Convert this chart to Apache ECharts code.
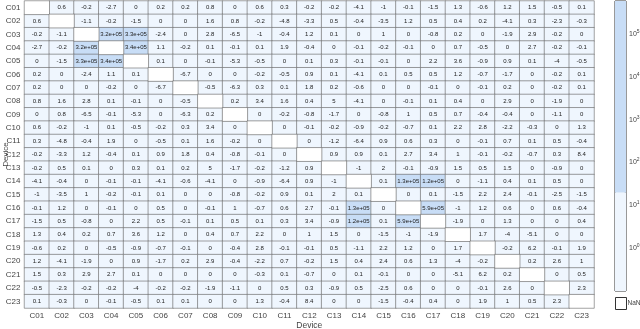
<!DOCTYPE html>
<html>
<head>
<meta charset="utf-8">
<script src="https://cdn.jsdelivr.net/npm/echarts@6/dist/echarts.min.js"></script>
<style>html,body{margin:0;padding:0;background:#fff;}#c{width:640px;height:329px;}</style>
</head>
<body>
<div id="c"></div>
<script>
const categories = ['C01','C02','C03','C04','C05','C06','C07','C08','C09','C10','C11','C12','C13','C14','C15','C16','C17','C18','C19','C20','C21','C22','C23'];
const N = NaN;
const values = [
  [N, 0.6, -0.2, -2.7, 0, 0.2, 0.2, 0.8, 0, 0.6, 0.3, -0.2, -0.2, -4.1, -1, -0.1, -1.5, 1.3, -0.6, 1.2, 1.5, -0.5, 0.1],
  [0.6, N, -1.1, -0.2, -1.5, 0, 0, 1.6, 0.8, -0.2, -4.8, -3.3, 0.5, -0.4, -3.5, 1.2, 0.5, 0.4, 0.2, -4.1, 0.3, -2.3, -0.3],
  [-0.2, -1.1, N, 3.2e5, 3.3e5, -2.4, 0, 2.8, -6.5, -1, -0.4, 1.2, 0.1, 0, 1, 0, -0.8, 0.2, 0, -1.9, 2.9, -0.2, 0],
  [-2.7, -0.2, 3.2e5, N, 3.4e5, 1.1, -0.2, 0.1, -0.1, 0.1, 1.9, -0.4, 0, -0.1, -0.2, -0.1, 0, 0.7, -0.5, 0, 2.7, -0.2, -0.1],
  [0, -1.5, 3.3e5, 3.4e5, N, 0.1, 0, -0.1, -5.3, -0.5, 0, 0.1, 0.3, -0.1, -0.1, 0, 2.2, 3.6, -0.9, 0.9, 0.1, -4, -0.5],
  [0.2, 0, -2.4, 1.1, 0.1, N, -6.7, 0, 0, -0.2, -0.5, 0.9, 0.1, -4.1, 0.1, 0.5, 0.5, 1.2, -0.7, -1.7, 0, -0.2, 0.1],
  [0.2, 0, 0, -0.2, 0, -6.7, N, -0.5, -6.3, 0.3, 0.1, 1.8, 0.2, -0.6, 0, 0, -0.1, 0, -0.1, 0.2, 0, -0.2, 0.1],
  [0.8, 1.6, 2.8, 0.1, -0.1, 0, -0.5, N, 0.2, 3.4, 1.6, 0.4, 5, -4.1, 0, -0.1, 0.1, 0.4, 0, 2.9, 0, -1.9, 0],
  [0, 0.8, -6.5, -0.1, -5.3, 0, -6.3, 0.2, N, 0, -0.2, -0.8, -1.7, 0, -0.8, 1, 0.5, 0.7, -0.4, -0.4, 0, -1.1, 0],
  [0.6, -0.2, -1, 0.1, -0.5, -0.2, 0.3, 3.4, 0, N, 0, -0.1, -0.2, -0.9, -0.2, -0.7, 0.1, 2.2, 2.8, -2.2, -0.3, 0, 1.3],
  [0.3, -4.8, -0.4, 1.9, 0, -0.5, 0.1, 1.6, -0.2, 0, N, 0, -1.2, -6.4, 0.9, 0.6, 0.3, 0, -0.1, 0.7, 0.1, 0.5, -0.4],
  [-0.2, -3.3, 1.2, -0.4, 0.1, 0.9, 1.8, 0.4, -0.8, -0.1, 0, N, 0.9, 0.9, 0.1, 2.7, 3.4, 1, -0.1, -0.2, -0.7, 0.3, 8.4],
  [-0.2, 0.5, 0.1, 0, 0.3, 0.1, 0.2, 5, -1.7, -0.2, -1.2, 0.9, N, -1, 2, -0.1, -0.9, 1.5, 0.5, 1.5, 0, -0.9, 0],
  [-4.1, -0.4, 0, -0.1, -0.1, -4.1, -0.6, -4.1, 0, -0.9, -6.4, 0.9, -1, N, 0.1, 1.3e5, 1.2e5, 0, -1.1, 0.4, 0.1, 0.5, 0],
  [-1, -3.5, 1, -0.2, -0.1, 0.1, 0, 0, -0.8, -0.2, 0.9, 0.1, 2, 0.1, N, 0, 0.1, -1.5, 2.2, 2.4, -0.1, -2.5, -1.5],
  [-0.1, 1.2, 0, -0.1, 0, 0.5, 0, -0.1, 1, -0.7, 0.6, 2.7, -0.1, 1.3e5, 0, N, 5.9e5, -1, 1.2, 0.6, 0, 0.6, -0.4],
  [-1.5, 0.5, -0.8, 0, 2.2, 0.5, -0.1, 0.1, 0.5, 0.1, 0.3, 3.4, -0.9, 1.2e5, 0.1, 5.9e5, N, -1.9, 0, 1.3, 0, 0, 0.4],
  [1.3, 0.4, 0.2, 0.7, 3.6, 1.2, 0, 0.4, 0.7, 2.2, 0, 1, 1.5, 0, -1.5, -1, -1.9, N, 1.7, -4, -5.1, 0, 0],
  [-0.6, 0.2, 0, -0.5, -0.9, -0.7, -0.1, 0, -0.4, 2.8, -0.1, -0.1, 0.5, -1.1, 2.2, 1.2, 0, 1.7, N, -0.2, 6.2, -0.1, 1.9],
  [1.2, -4.1, -1.9, 0, 0.9, -1.7, 0.2, 2.9, -0.4, -2.2, 0.7, -0.2, 1.5, 0.4, 2.4, 0.6, 1.3, -4, -0.2, N, 0.2, 2.6, 1],
  [1.5, 0.3, 2.9, 2.7, 0.1, 0, 0, 0, 0, -0.3, 0.1, -0.7, 0, 0.1, -0.1, 0, 0, -5.1, 6.2, 0.2, N, 0, 0.5],
  [-0.5, -2.3, -0.2, -0.2, -4, -0.2, -0.2, -1.9, -1.1, 0, 0.5, 0.3, -0.9, 0.5, -2.5, 0.6, 0, 0, -0.1, 2.6, 0, N, 2.3],
  [0.1, -0.3, 0, -0.1, -0.5, 0.1, 0.1, 0, 0, 1.3, -0.4, 8.4, 0, 0, -1.5, -0.4, 0.4, 0, 1.9, 1, 0.5, 2.3, N]
];
const colorbarRange = [0.1, 5.9e5];
const colorbarTicks = [1, 10, 100, 1000, 10000, 100000];
const colorThreshold = 20;

const HIGH = '#c8ddf6';
const LOW = '#eff6fe';
const FONT = '"Liberation Sans", Arial, sans-serif';

const cellData = [];
const nanData = [];
values.forEach(function (row, r) {
  row.forEach(function (v, c) {
    if (isNaN(v)) nanData.push([c, r, 0]);
    else cellData.push([c, r, v]);
  });
});

function fmt(v) {
  if (Math.abs(v) >= 1e4) {
    return v.toExponential(1).replace(/e([+-])(\d)$/, 'e$10$2');
  }
  return String(v);
}

const chart = echarts.init(document.getElementById('c'), null, {renderer: 'canvas'});
chart.setOption({
  animation: false,
  textStyle: {fontFamily: FONT},
  grid: [
    {left: 24.5, top: 1, width: 569.5, height: 307, show: false, outerBoundsMode: 'none', containLabel: false},
    {left: 615, top: 1, width: 11, height: 290, show: true, borderColor: '#333', borderWidth: 1, backgroundColor: 'transparent', outerBoundsMode: 'none', containLabel: false}
  ],
  xAxis: [
    {
      type: 'category', gridIndex: 0, data: categories,
      name: 'Device', nameLocation: 'middle', nameGap: 13, nameMoveOverlap: false,
      nameTextStyle: {fontSize: 8.5, color: '#444', fontFamily: FONT},
      axisLine: {show: false}, axisTick: {show: false},
      axisLabel: {fontSize: 8, color: '#444', margin: 4, interval: 0, fontFamily: FONT},
      splitLine: {show: false}
    },
    {type: 'category', gridIndex: 1, data: [''], show: false}
  ],
  yAxis: [
    {
      type: 'category', gridIndex: 0, data: categories, inverse: true,
      name: 'Device', nameLocation: 'middle', nameGap: 15, nameRotate: 90, nameMoveOverlap: false,
      nameTextStyle: {fontSize: 8, color: '#444', fontFamily: FONT},
      axisLine: {show: false}, axisTick: {show: false},
      axisLabel: {fontSize: 8, color: '#444', margin: 4, interval: 0, fontFamily: FONT},
      splitLine: {show: false}
    },
    {
      type: 'log', gridIndex: 1, logBase: 10, min: colorbarRange[0], max: colorbarRange[1],
      position: 'right',
      axisLine: {show: false},
      axisTick: {show: true, inside: true, length: 2.5, customValues: colorbarTicks, lineStyle: {color: '#333', width: 0.8}},
      minorTick: {show: true, splitNumber: 9, length: 1.5, lineStyle: {color: '#666', width: 0.5}},
      splitLine: {show: false},
      axisLabel: {
        margin: 3, color: '#444',
        customValues: colorbarTicks,
        formatter: function (v) {
          const e = Math.round(Math.log10(v));
          return '{b|10}{s|' + e + '}';
        },
        rich: {
          b: {fontSize: 7, color: '#444', fontFamily: FONT},
          s: {fontSize: 5, color: '#444', fontFamily: FONT, padding: [0, 0, 5, 0]}
        }
      }
    }
  ],
  visualMap: {
    type: 'piecewise', show: false, dimension: 2, seriesIndex: 0,
    pieces: [{gte: colorThreshold, color: HIGH}, {lt: colorThreshold, color: LOW}]
  },
  series: [
    {
      type: 'heatmap', xAxisIndex: 0, yAxisIndex: 0, data: cellData,
      itemStyle: {borderColor: '#666', borderWidth: 0.6},
      label: {
        show: true, fontSize: 6, color: '#222', fontFamily: FONT,
        formatter: function (p) { return fmt(p.value[2]); }
      },
      emphasis: {disabled: true}
    },
    {
      type: 'heatmap', xAxisIndex: 0, yAxisIndex: 0, data: nanData,
      itemStyle: {color: '#ffffff', borderColor: '#666', borderWidth: 0.6},
      label: {show: false},
      emphasis: {disabled: true}
    },
    {
      type: 'custom', xAxisIndex: 1, yAxisIndex: 1,
      data: [[0, colorbarRange[0], colorThreshold, 0], [0, colorThreshold, colorbarRange[1], 1]],
      renderItem: function (params, api) {
        const top = api.coord([api.value(0), api.value(2)]);
        const bot = api.coord([api.value(0), api.value(1)]);
        const w = api.size([1, 0])[0];
        return {
          type: 'rect',
          shape: {x: top[0] - w / 2, y: top[1], width: w, height: bot[1] - top[1]},
          style: {fill: api.value(3) === 1 ? HIGH : LOW}
        };
      },
      z: 1
    }
  ],
  graphic: [
    {type: 'rect', left: 615, top: 297, shape: {width: 11, height: 12}, style: {fill: '#fff', stroke: '#333', lineWidth: 1}},
    {type: 'text', left: 627.5, top: 300, style: {text: 'NaN', fontSize: 6.5, fill: '#444', fontFamily: FONT}}
  ]
});
</script>
</body>
</html>
